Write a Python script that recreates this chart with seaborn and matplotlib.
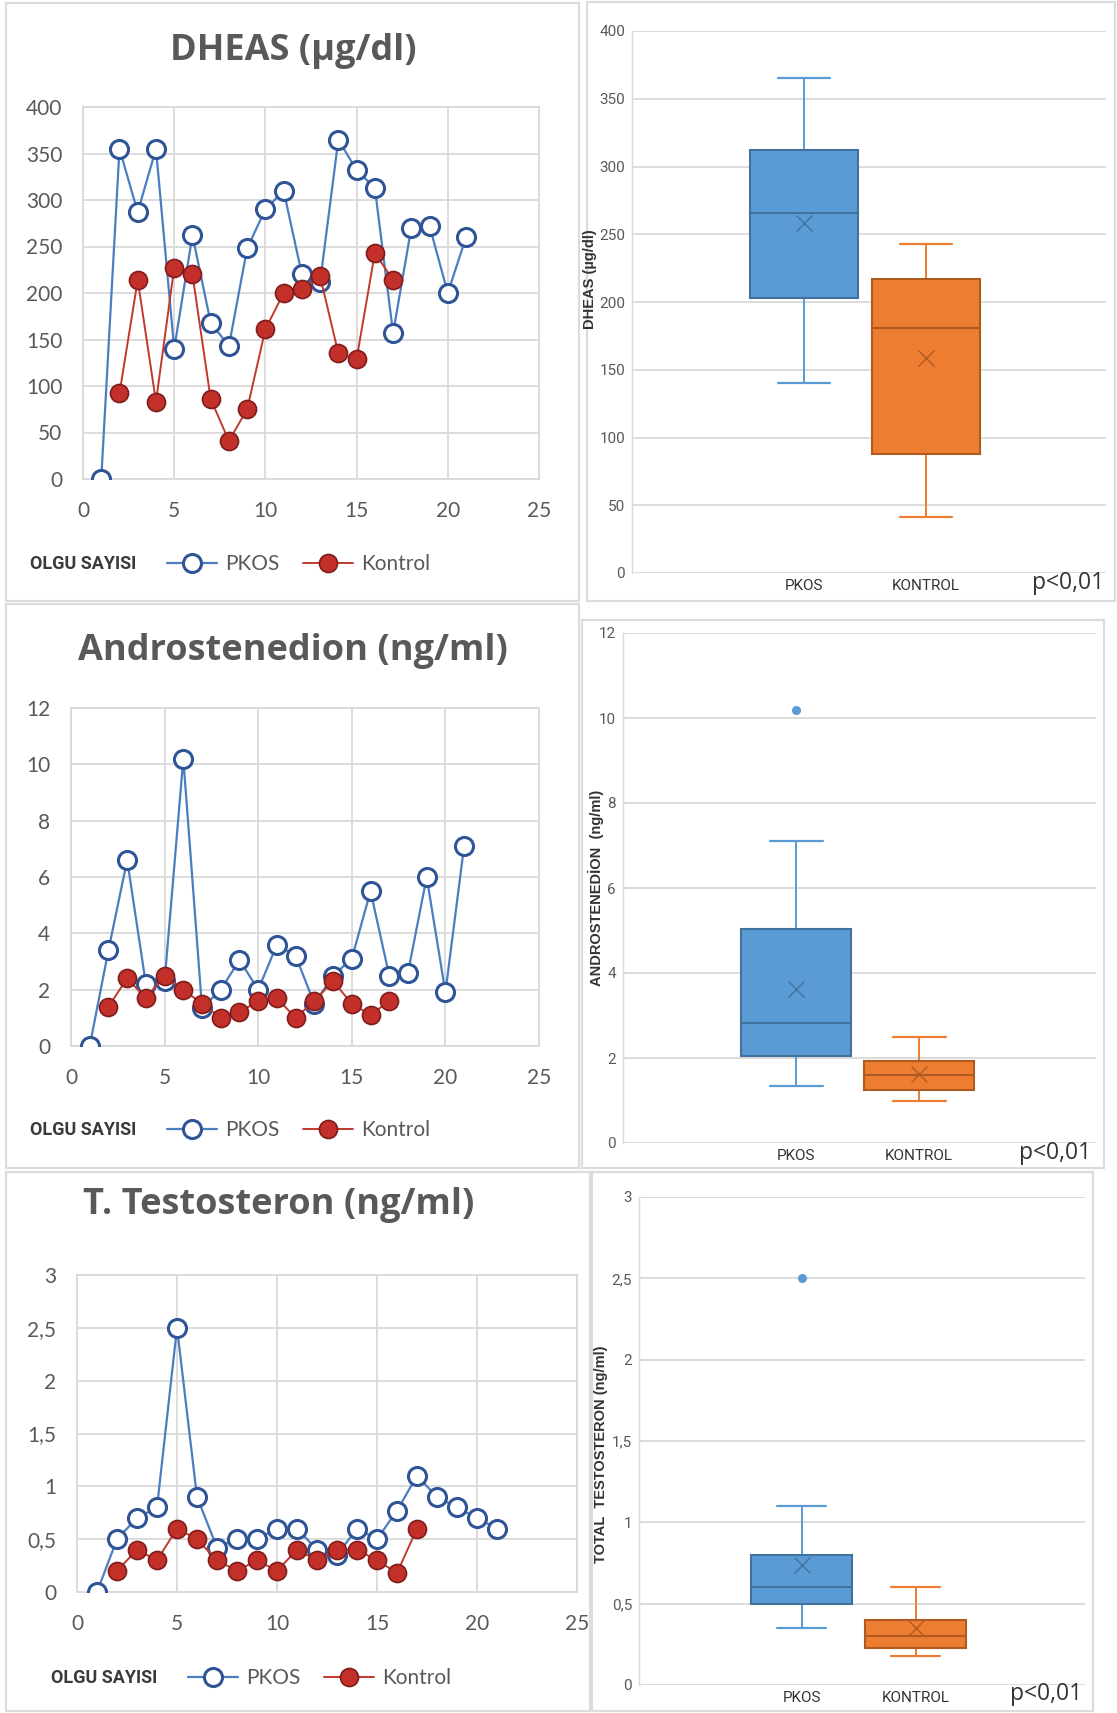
import numpy as np
import matplotlib
matplotlib.use("Agg")
import matplotlib.pyplot as plt
from matplotlib.patches import Rectangle
from matplotlib.ticker import FuncFormatter
import seaborn as sns

# ---------------- data ----------------
olgu_pkos = list(range(1, 22))
olgu_kontrol = list(range(2, 18))

dheas_pkos = [0, 355, 287, 355, 140, 262, 168, 143, 248, 290, 310, 220, 212, 365, 332, 313, 157, 270, 272, 200, 260]
dheas_kontrol = [92, 214, 83, 227, 220, 86, 41, 75, 161, 200, 204, 218, 135, 129, 243, 214]

andro_pkos = [0, 3.4, 6.6, 2.2, 2.3, 10.2, 1.35, 2.0, 3.05, 2.0, 3.6, 3.2, 1.5, 2.5, 3.1, 5.5, 2.5, 2.6, 6.0, 1.9, 7.1]
andro_kontrol = [1.4, 2.4, 1.7, 2.5, 2.0, 1.5, 1.0, 1.2, 1.6, 1.7, 1.0, 1.6, 2.3, 1.5, 1.1, 1.6]

testo_pkos = [0, 0.5, 0.7, 0.8, 2.5, 0.9, 0.42, 0.5, 0.5, 0.6, 0.6, 0.4, 0.35, 0.6, 0.5, 0.77, 1.1, 0.9, 0.8, 0.7, 0.6]
testo_kontrol = [0.2, 0.4, 0.3, 0.6, 0.5, 0.3, 0.2, 0.3, 0.2, 0.4, 0.3, 0.4, 0.4, 0.3, 0.18, 0.6]

groups = ["PKOS", "KONTROL"]
titles = ["DHEAS (µg/dl)", "Androstenedion (ng/ml)", "T. Testosteron (ng/ml)"]
box_ylabels = ["DHEAS (µg/dl)", "ANDROSTENEDİON  (ng/ml)", "TOTAL  TESTOSTERON (ng/ml)"]
p_text = "p<0,01"
##################################################

W, H = 1117, 1713
sns.set_theme(style="white")
plt.rcParams["font.family"] = ["Lato", "DejaVu Sans"]
narrow = ["Roboto", "DejaVu Sans"]

BLUE_LINE = "#4a7ebf"
BLUE_EDGE = "#2f5597"
RED_LINE = "#c0392b"
RED_FACE = "#c3302a"
RED_EDGE = "#7f1d1d"
GRID = "#d9d9d9"
TXT = "#595959"

fig = plt.figure(figsize=(W / 100, H / 100), dpi=100)
fig.patch.set_facecolor("white")


def rect(x0, y0, x1, y1):
    return [x0 / W, 1 - y1 / H, (x1 - x0) / W, (y1 - y0) / H]


def frame(x0, y0, x1, y1):
    fig.add_artist(Rectangle((x0 / W, 1 - y1 / H), (x1 - x0) / W, (y1 - y0) / H,
                             transform=fig.transFigure, fill=False, edgecolor="#dcdcdc", lw=1.6,
                             zorder=0))


def comma(v, pos):
    return f"{v:g}".replace(".", ",")


# panel frames
frame(6, 3, 579, 601)
frame(6, 604, 579, 1168)
frame(6, 1172, 590, 1711)
frame(587, 2, 1115, 601)
frame(582, 620, 1104, 1168)
frame(592, 1172, 1093, 1711)


def line_panel(ax_rect, pkos, kontrol, ymax, ystep, title, title_xy, legend_y, olgu_x):
    ax = fig.add_axes(rect(*ax_rect))
    sns.lineplot(x=olgu_pkos, y=pkos, ax=ax, color=BLUE_LINE, lw=1.6, marker="o", markersize=13,
                 markerfacecolor="white", markeredgecolor=BLUE_EDGE, markeredgewidth=2.2, label="PKOS",
                 zorder=3)
    sns.lineplot(x=olgu_kontrol, y=kontrol, ax=ax, color=RED_LINE, lw=1.4, marker="o", markersize=13,
                 markerfacecolor=RED_FACE, markeredgecolor=RED_EDGE, markeredgewidth=1.2, label="Kontrol",
                 zorder=4)
    ax.set_xlim(0, 25)
    ax.set_ylim(0, ymax)
    ax.set_xticks(np.arange(0, 26, 5))
    ax.set_yticks(np.arange(0, ymax + ystep / 2, ystep))
    ax.yaxis.set_major_formatter(FuncFormatter(comma))
    ax.grid(True, color=GRID, lw=1.3)
    for s in ax.spines.values():
        s.set_color(GRID)
        s.set_linewidth(1.3)
    ax.tick_params(length=0, labelsize=15, labelcolor=TXT)
    ax.tick_params(axis="x", pad=16)
    ax.tick_params(axis="y", pad=15)
    ax.set_xlabel("")
    ax.set_ylabel("")
    fig.text(title_xy[0] / W, 1 - title_xy[1] / H, title, ha="center", va="center",
             fontsize=26, fontweight="bold", color=TXT, family=["Open Sans", "DejaVu Sans"])
    fig.text(olgu_x / W, 1 - legend_y / H, "OLGU SAYISI", ha="left", va="center",
             fontsize=13, fontweight="bold", color="#3a3a3a", family=narrow)
    ax.legend(loc="center left", bbox_to_anchor=((olgu_x + 137) / W, 1 - legend_y / H),
              bbox_transform=fig.transFigure, ncol=2, frameon=False, fontsize=15,
              handlelength=2.4, handletextpad=0.4, columnspacing=1.1, labelcolor=TXT,
              borderaxespad=0, borderpad=0)
    return ax


def excel_stats(vals, label):
    # Excel box & whisker uses exclusive quartiles
    v = np.sort(np.asarray(vals, float))
    q1, med, q3 = np.percentile(v, [25, 50, 75], method="weibull")
    iqr = q3 - q1
    lo = v[v >= q1 - 1.5 * iqr].min()
    hi = v[v <= q3 + 1.5 * iqr].max()
    fliers = v[(v < lo) | (v > hi)]
    return dict(med=med, q1=q1, q3=q3, whislo=lo, whishi=hi, mean=v.mean(), fliers=fliers, label=label)


def box_panel(ax_rect, pkos, kontrol, ymax, ystep, ylabel, ylabel_xy, p_xy, pos_frac):
    ax = fig.add_axes(rect(*ax_rect))
    stats = [excel_stats(pkos[1:], groups[0]), excel_stats(kontrol, groups[1])]
    art = ax.bxp(stats, positions=[0, 1], widths=0.89, capwidths=0.43, patch_artist=True,
                 showmeans=True, manage_ticks=False)
    fills = ["#5b9bd5", "#ed7d31"]
    darks = ["#41719c", "#ae5a21"]
    for i in range(2):
        art["boxes"][i].set(facecolor=fills[i], edgecolor=darks[i], lw=1.5, zorder=3)
        art["medians"][i].set(color=darks[i], lw=1.5, zorder=4)
        for k in (2 * i, 2 * i + 1):
            art["whiskers"][k].set(color=fills[i], lw=1.4)
            art["caps"][k].set(color=fills[i], lw=1.6)
        art["means"][i].set(marker="x", markersize=12, markeredgecolor=darks[i], markeredgewidth=1.0,
                            markerfacecolor="none", zorder=5)
        art["fliers"][i].set(marker="o", markersize=5.5, markerfacecolor=fills[i], markeredgecolor=fills[i])
    a, b = pos_frac
    span = 1 / (b - a)
    ax.set_xlim(-a * span, -a * span + span)
    ax.set_ylim(0, ymax)
    ax.set_yticks(np.arange(0, ymax + ystep / 2, ystep))
    ax.yaxis.set_major_formatter(FuncFormatter(comma))
    ax.set_xticks([0, 1])
    ax.set_xticklabels(groups)
    ax.grid(axis="y", color=GRID, lw=1.3)
    ax.set_axisbelow(True)
    for s in ["top", "right", "bottom"]:
        ax.spines[s].set_visible(False)
    ax.spines["left"].set_color(GRID)
    ax.spines["left"].set_linewidth(1.0)
    ax.tick_params(length=0)
    ax.tick_params(axis="y", labelsize=11, labelcolor=TXT, pad=5)
    ax.tick_params(axis="x", labelsize=11, labelcolor="#333333", pad=4)
    for t in ax.get_yticklabels() + ax.get_xticklabels():
        t.set_family(narrow)
    fig.text(ylabel_xy[0] / W, 1 - ylabel_xy[1] / H, ylabel, rotation=90, ha="center", va="center",
             fontsize=10.5, fontweight="bold", color="#333333", family=["Liberation Sans", "DejaVu Sans"])
    fig.text(p_xy[0] / W, 1 - p_xy[1] / H, p_text, ha="center", va="center", fontsize=16.5,
             color="#333333", family=["Open Sans", "DejaVu Sans"])
    return ax


line_panel((83, 107, 539, 479), dheas_pkos, dheas_kontrol, 400, 50, titles[0], (293, 51), 564, 30)
line_panel((71, 708, 539, 1046), andro_pkos, andro_kontrol, 12, 2, titles[1], (293, 651), 1130, 30)
line_panel((77, 1275, 577, 1592), testo_pkos, testo_kontrol, 3, 0.5, titles[2], (279, 1205), 1678, 51)

box_panel((632, 31, 1106, 573), dheas_pkos, dheas_kontrol, 400, 50, box_ylabels[0], (590, 279),
          (1068, 583), (0.363, 0.62))
box_panel((623, 633, 1096, 1143), andro_pkos, andro_kontrol, 12, 2, box_ylabels[1], (596, 888),
          (1055, 1153), (0.366, 0.626))
box_panel((639, 1197, 1085, 1685), testo_pkos, testo_kontrol, 3, 0.5, box_ylabels[2], (601, 1454),
          (1046, 1694), (0.365, 0.62))

fig.savefig("out.png", dpi=100)
